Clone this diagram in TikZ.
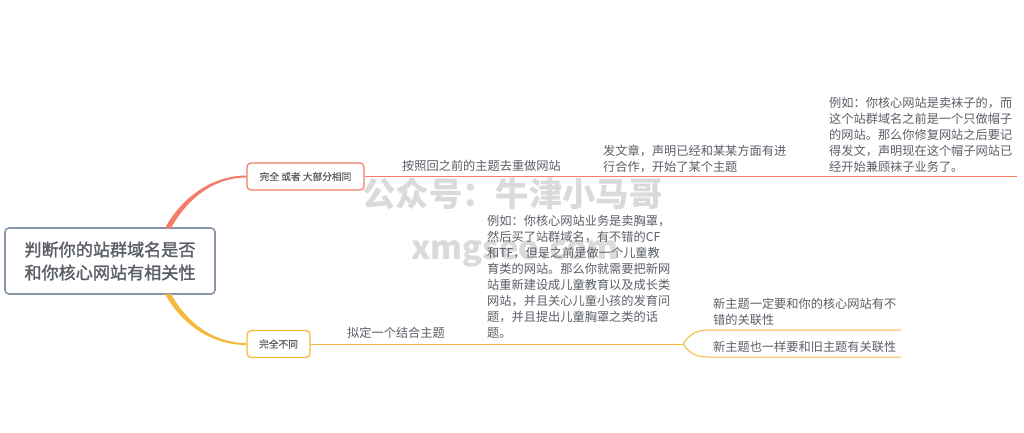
\documentclass[tikz,border=0pt]{standalone}
\usepackage{fontspec}
\setmainfont{Noto Sans CJK SC}
\newfontfamily\semifont[FakeBold=0.5]{Noto Sans CJK SC}
\newfontfamily\rootfont[FakeBold=1.6]{Noto Sans CJK SC}
\definecolor{rednote}{HTML}{F47C69}
\definecolor{yellownote}{HTML}{F6B73C}
\definecolor{rootline}{HTML}{8A95A8}
\definecolor{inktext}{HTML}{5A5F66}
\definecolor{marktext}{HTML}{DADADA}
\tikzset{
	note/.style={anchor=west, align=left, inner sep=0pt, text=inktext, font=\fontsize{12.2}{16}\selectfont},
	branchbox/.style={draw, line width=1.2pt, rounded corners=4pt, fill=white, minimum height=27pt, inner sep=0pt, text=inktext, font=\semifont\fontsize{9.7}{12}\selectfont},
	watermark/.style={inner sep=0pt, text=marktext, font=\bfseries\fontsize{33.3}{36}\selectfont}
}

\begin{document}
\begin{tikzpicture}[x=1pt, y=-1pt]
	\useasboundingbox (0,0) rectangle (1024,432);
	\fill [white] (0,0) rectangle (1024,432);
	% watermark
	\node [watermark] (markcn) at (512.5,194) {公众号：牛津小马哥};
	\node [watermark, font=\bfseries\fontsize{32.5}{36}\selectfont] (markurl) at (515,253.5) {xmgseo.com};
	% boxes
	\node [draw=rootline, line width=1.6pt, rounded corners=4pt, fill=white, minimum width=210pt, minimum height=66pt, inner sep=0pt, align=center, text=inktext, font=\rootfont\fontsize{17.1}{23}\selectfont] (root) at (110,261) {判断你的站群域名是否\\和你核心网站有相关性};
	\node [branchbox, draw=rednote, minimum width=117pt] (same) at (305.5,176.5) {完全 或者 大部分相同};
	\node [branchbox, draw=yellownote, minimum width=63pt] (diff) at (278.5,344) {完全不同};
	% free ends
	\coordinate (rootup) at (168,228);
	\coordinate (rootdown) at (168,294);
	\coordinate (sameend) at (1017,176.5);
	\coordinate (fork) at (683,344);
	\coordinate (forkup) at (901,330);
	\coordinate (forkdown) at (901,357);
	% lines
	\fill [rednote] ([xshift=-3pt]rootup) .. controls (184,194) and (215,175.5) .. ([yshift=1pt]same.west) -- ([yshift=-1pt]same.west) .. controls (216,177.5) and (189,196) .. ([xshift=3pt]rootup) -- cycle;
	\fill [yellownote] ([xshift=-3pt]rootdown) .. controls (184,328) and (215,345) .. ([yshift=-1pt]diff.west) -- ([yshift=1pt]diff.west) .. controls (216,343) and (189,326) .. ([xshift=3pt]rootdown) -- cycle;
	\draw [rednote, line width=1pt] (same.east) -- (sameend);
	\draw [yellownote, line width=1pt] (diff.east) -- (fork);
	\draw [yellownote, line width=1pt] (fork) .. controls (690,334) and (697,330) .. (708,330) -- (forkup);
	\draw [yellownote, line width=1pt] (fork) .. controls (690,354) and (697,357) .. (708,357) -- (forkdown);
	% texts
	\node [note] (redo) at (402,165.5) {按照回之前的主题去重做网站};
	\node [note] (post) at (603,158.5) {发文章，声明已经和某某方面有进\\行合作，开始了某个主题};
	\node [note] (socks) at (829,134.5) {例如：你核心网站是卖袜子的，而\\这个站群域名之前是一个只做帽子\\的网站。那么你修复网站之后要记\\得发文，声明现在这个帽子网站已\\经开始兼顾袜子业务了。};
	\node [note] (mix) at (347,332.5) {拟定一个结合主题};
	\node [note] (bra) at (487,277) {例如：你核心网站业务是卖胸罩，\\然后买了站群域名，有不错的CF\\和TF，但是之前是做一个儿童教\\育类的网站。那么你就需要把新网\\站重新建设成儿童教育以及成长类\\网站，并且关心儿童小孩的发育问\\题，并且提出儿童胸罩之类的话\\题。};
	\node [note] (must) at (713,311.5) {新主题一定要和你的核心网站有不\\错的关联性};
	\node [note] (old) at (713,346.5) {新主题也一样要和旧主题有关联性};
\end{tikzpicture}
\end{document}
